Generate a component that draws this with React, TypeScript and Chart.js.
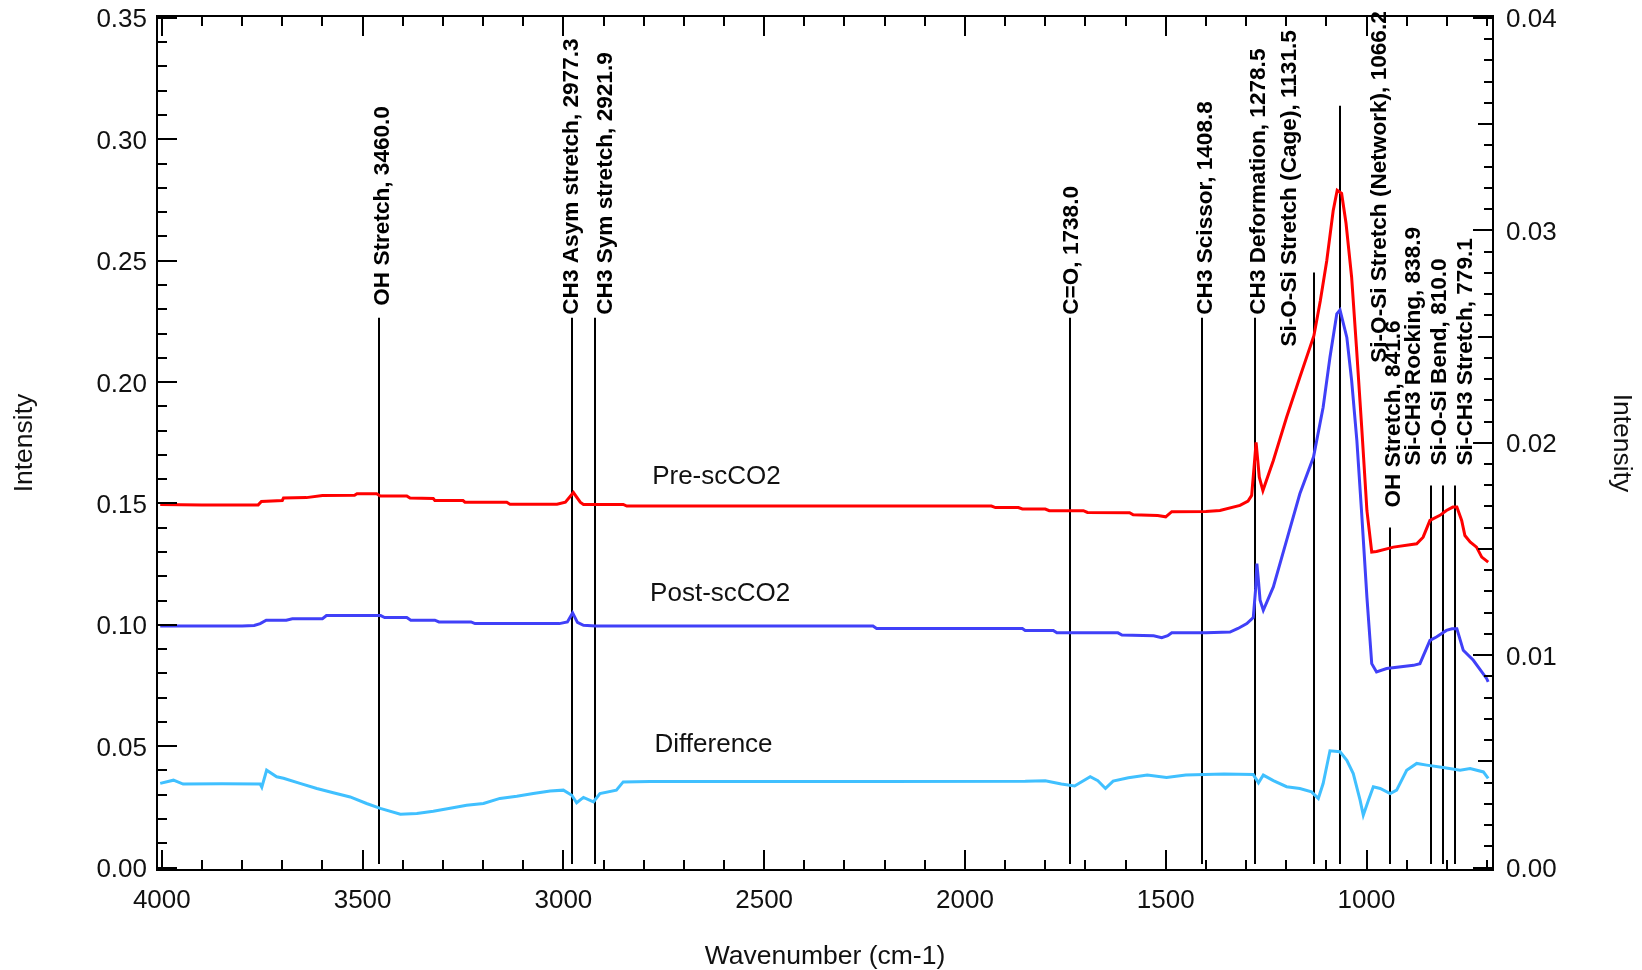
import React, { useEffect, useRef } from "react";
import { Chart, registerables } from "chart.js";

Chart.register(...registerables);

// ---------------- Data ----------------
const PRE_X = [4004, 3900, 3760, 3752, 3700, 3697, 3640, 3600, 3520, 3514, 3465, 3456, 3390, 3382, 3324, 3320, 3250, 3245, 3141, 3133, 3016, 2995, 2975, 2958, 2950, 2851, 2842, 2734, 2400, 2100, 1934, 1924, 1867, 1857, 1800, 1790, 1705, 1695, 1590, 1581, 1520, 1500, 1495, 1485, 1400, 1365, 1315, 1295, 1286, 1280, 1275, 1271, 1267, 1258, 1232, 1199, 1166, 1131, 1115, 1099, 1083, 1073, 1062, 1051, 1037, 1025, 1012, 999, 987, 975, 933, 875, 859, 842, 817, 801, 785, 775, 763, 755, 742, 726, 713, 697];
const PRE_Y = [0.1496, 0.1494, 0.1494, 0.1508, 0.1512, 0.1522, 0.1524, 0.1533, 0.1534, 0.1540, 0.1540, 0.1531, 0.1531, 0.1522, 0.1520, 0.1512, 0.1512, 0.1505, 0.1505, 0.1497, 0.1497, 0.1505, 0.1545, 0.1505, 0.1496, 0.1496, 0.1489, 0.1489, 0.1489, 0.1489, 0.1489, 0.1483, 0.1483, 0.1477, 0.1477, 0.1470, 0.1470, 0.1463, 0.1462, 0.1453, 0.1450, 0.1445, 0.1452, 0.1466, 0.1467, 0.1471, 0.1492, 0.1510, 0.1533, 0.1650, 0.1752, 0.1680, 0.1608, 0.1553, 0.1677, 0.1855, 0.2020, 0.2191, 0.2335, 0.2500, 0.2706, 0.2790, 0.2777, 0.2654, 0.2431, 0.2143, 0.1814, 0.1471, 0.1300, 0.1302, 0.1320, 0.1334, 0.1361, 0.1430, 0.1451, 0.1471, 0.1485, 0.1485, 0.1430, 0.1368, 0.1341, 0.1320, 0.1279, 0.1258];

const POST_X = [4004, 3860, 3800, 3770, 3755, 3740, 3690, 3675, 3600, 3590, 3455, 3445, 3390, 3380, 3320, 3310, 3230, 3220, 3010, 2990, 2977, 2965, 2950, 2920, 2229, 2220, 1857, 1850, 1780, 1771, 1619, 1609, 1530, 1510, 1495, 1485, 1400, 1340, 1320, 1298, 1282, 1276, 1273, 1269, 1265, 1257, 1232, 1199, 1166, 1132, 1108, 1091, 1074, 1066, 1049, 1037, 1024, 1012, 999, 987, 975, 950, 883, 867, 842, 826, 801, 787, 775, 759, 734, 701, 697];
const POST_Y = [0.0995, 0.0995, 0.0995, 0.0997, 0.1005, 0.1019, 0.1019, 0.1025, 0.1025, 0.1038, 0.1038, 0.1030, 0.1030, 0.1019, 0.1019, 0.1012, 0.1012, 0.1005, 0.1005, 0.1012, 0.1049, 0.1010, 0.0998, 0.0995, 0.0995, 0.0985, 0.0985, 0.0977, 0.0977, 0.0967, 0.0967, 0.0958, 0.0955, 0.0947, 0.0955, 0.0967, 0.0967, 0.0970, 0.0985, 0.1005, 0.1030, 0.1150, 0.1252, 0.1180, 0.1101, 0.1060, 0.1156, 0.1348, 0.1540, 0.1691, 0.1896, 0.2102, 0.2281, 0.2297, 0.2184, 0.2006, 0.1759, 0.1458, 0.1114, 0.0840, 0.0806, 0.0820, 0.0833, 0.0840, 0.0936, 0.0950, 0.0977, 0.0984, 0.0984, 0.0895, 0.0854, 0.0779, 0.0765];

const DIFF_X = [4004, 3971, 3947, 3850, 3755, 3751, 3739, 3714, 3697, 3656, 3614, 3573, 3531, 3490, 3456, 3406, 3365, 3324, 3282, 3241, 3199, 3158, 3116, 3075, 3033, 3000, 2979, 2967, 2950, 2925, 2909, 2868, 2851, 2784, 2500, 2200, 1850, 1800, 1760, 1727, 1688, 1669, 1650, 1631, 1593, 1546, 1498, 1450, 1403, 1355, 1282, 1269, 1257, 1232, 1199, 1166, 1137, 1120, 1108, 1091, 1066, 1049, 1033, 1016, 1008, 995, 983, 966, 941, 925, 900, 875, 850, 809, 767, 742, 709, 697];
const DIFF_Y = [0.0347, 0.0360, 0.0344, 0.0345, 0.0344, 0.0331, 0.0401, 0.0374, 0.0368, 0.0347, 0.0326, 0.0308, 0.0291, 0.0264, 0.0244, 0.0220, 0.0223, 0.0232, 0.0244, 0.0257, 0.0264, 0.0285, 0.0294, 0.0305, 0.0315, 0.0319, 0.0298, 0.0267, 0.0289, 0.0271, 0.0305, 0.0319, 0.0353, 0.0355, 0.0355, 0.0355, 0.0356, 0.0358, 0.0344, 0.0336, 0.0374, 0.0358, 0.0326, 0.0356, 0.0370, 0.0381, 0.0371, 0.0381, 0.0383, 0.0385, 0.0383, 0.0349, 0.0381, 0.0358, 0.0333, 0.0326, 0.0312, 0.0285, 0.0346, 0.0481, 0.0477, 0.0442, 0.0387, 0.0278, 0.0216, 0.0278, 0.0333, 0.0326, 0.0305, 0.0319, 0.0401, 0.0429, 0.0422, 0.0412, 0.0401, 0.0408, 0.0394, 0.0367];

const SERIES_NAMES = ["Pre-scCO2", "Post-scCO2", "Difference"];

// Peak annotations
const PEAK_WAVENUMBERS = [3460.0, 2977.3, 2921.9, 1738.0, 1408.8, 1278.5, 1131.5, 1066.2, 941.6, 838.9, 810.0, 779.1];
const PEAK_LABELS = [
  "OH Stretch, 3460.0",
  "CH3 Asym stretch, 2977.3",
  "CH3 Sym stretch, 2921.9",
  "C=O, 1738.0",
  "CH3 Scissor, 1408.8",
  "CH3 Deformation, 1278.5",
  "Si-O-Si Stretch (Cage), 1131.5",
  "Si-O-Si Stretch (Network), 1066.2",
  "OH Stretch, 841.6",
  "Si-CH3 Rocking, 838.9",
  "Si-O-Si Bend, 810.0",
  "Si-CH3 Stretch, 779.1",
];
const PEAK_LINE_TOPS = [0.2265, 0.2265, 0.2265, 0.2265, 0.2265, 0.2265, 0.2451, 0.3138, 0.1401, 0.1574, 0.1574, 0.1574];
const PEAK_LINE_BOTTOM = 0.0015;

// Axis ticks
const X_MAJOR_TICKS = [4000, 3500, 3000, 2500, 2000, 1500, 1000];
const Y_LEFT_TICKS = [0.0, 0.05, 0.1, 0.15, 0.2, 0.25, 0.3, 0.35];
const Y_RIGHT_TICKS = [0.0, 0.01, 0.02, 0.03, 0.04];

// ---------------- Layout / styles ----------------
const FONT = "'Liberation Sans', Arial, Helvetica, sans-serif";
const LABEL_DX = [2, -2, 9, 0, 2, 2, -26, 38, 2, -19, -5, 9];
const LABEL_GAP = [12, 3, 3, 3, 3, 3, -74, -257, 20, 20, 20, 20];
const SERIES_LABEL_POS = [
  [2779, 0.1581],
  [2784, 0.1097],
  [2773, 0.0476],
];
const COLORS = ["#ff0000", "#4040f8", "#40c0ff"];

const framePlugin = {
  id: "frame",
  beforeDatasetsDraw(chart: any) {
    const ctx = chart.ctx;
    const xs = chart.scales.x;
    const ys = chart.scales.y;
    ctx.save();
    ctx.strokeStyle = "#000";
    ctx.lineWidth = 2;
    PEAK_WAVENUMBERS.forEach((wn, i) => {
      const px = Math.round(xs.getPixelForValue(wn));
      ctx.beginPath();
      ctx.moveTo(px, ys.getPixelForValue(PEAK_LINE_BOTTOM));
      ctx.lineTo(px, ys.getPixelForValue(PEAK_LINE_TOPS[i]));
      ctx.stroke();
    });
    ctx.restore();
  },
  afterDatasetsDraw(chart: any) {
    const ctx = chart.ctx;
    const { left, right, top, bottom } = chart.chartArea;
    const xs = chart.scales.x;
    const ys = chart.scales.y;
    const y2 = chart.scales.y2;
    ctx.save();
    ctx.strokeStyle = "#000";
    ctx.lineWidth = 2;
    ctx.lineCap = "butt";
    const seg = (a: number, b: number, c: number, d: number) => {
      ctx.beginPath();
      ctx.moveTo(a, b);
      ctx.lineTo(c, d);
      ctx.stroke();
    };
    // frame
    ctx.strokeRect(left, top, right - left, bottom - top);

    // x ticks (every 100, major every 500)
    for (let v = 4000; v >= 700; v -= 100) {
      const px = Math.round(xs.getPixelForValue(v));
      const len = v % 500 === 0 ? 20 : 10;
      seg(px, bottom, px, bottom - len);
      seg(px, top, px, top + len);
    }
    // left y ticks (every 0.01, major every 0.05)
    for (let k = 0; k <= 35; k++) {
      const py = Math.round(ys.getPixelForValue(k / 100));
      const len = k % 5 === 0 ? 20 : 10;
      seg(left - 1, py, left + len, py);
    }
    // right y ticks (every 0.001, mid every 0.005, major every 0.01)
    for (let k = 0; k <= 40; k++) {
      const py = Math.round(y2.getPixelForValue(k / 1000));
      const len = k % 10 === 0 ? 20 : k % 5 === 0 ? 15 : 9;
      seg(right + 1, py, right - len, py);
    }

    // tick labels
    ctx.fillStyle = "#111";
    ctx.font = `26px ${FONT}`;
    ctx.textBaseline = "alphabetic";
    ctx.textAlign = "center";
    X_MAJOR_TICKS.forEach((v) => {
      ctx.fillText(String(v), xs.getPixelForValue(v), 908);
    });
    ctx.textAlign = "right";
    Y_LEFT_TICKS.forEach((v) => {
      ctx.fillText(v.toFixed(2), left - 10, ys.getPixelForValue(v) + 9.5);
    });
    ctx.textAlign = "left";
    Y_RIGHT_TICKS.forEach((v) => {
      ctx.fillText(v.toFixed(2), right + 13, y2.getPixelForValue(v) + 9.5);
    });

    // axis titles
    ctx.font = `26.5px ${FONT}`;
    ctx.textAlign = "center";
    ctx.fillText("Wavenumber (cm-1)", (left + right) / 2, 964);
    const midY = (top + bottom) / 2;
    ctx.save();
    ctx.translate(32, midY);
    ctx.rotate(-Math.PI / 2);
    ctx.fillText("Intensity", 0, 0);
    ctx.restore();
    ctx.save();
    ctx.translate(1614, midY);
    ctx.rotate(Math.PI / 2);
    ctx.fillText("Intensity", 0, 0);
    ctx.restore();

    // series labels
    ctx.font = `26px ${FONT}`;
    ctx.textAlign = "left";
    SERIES_NAMES.forEach((name, i) => {
      const [wx, wy] = SERIES_LABEL_POS[i];
      ctx.fillText(name, xs.getPixelForValue(wx), ys.getPixelForValue(wy));
    });

    // peak labels
    ctx.font = `bold 22.6px ${FONT}`;
    ctx.fillStyle = "#000";
    ctx.textAlign = "left";
    PEAK_LABELS.forEach((label, i) => {
      const cx = xs.getPixelForValue(PEAK_WAVENUMBERS[i]) + LABEL_DX[i];
      const startY = ys.getPixelForValue(PEAK_LINE_TOPS[i]) - LABEL_GAP[i];
      ctx.save();
      ctx.translate(cx + 8, startY);
      ctx.rotate(-Math.PI / 2);
      ctx.fillText(label, 0, 0);
      ctx.restore();
    });
    ctx.restore();
  },
};

export default function App() {
  const canvasRef = useRef<HTMLCanvasElement | null>(null);

  useEffect(() => {
    const canvas = canvasRef.current;
    if (!canvas) return;
    const toPoints = (xsArr: number[], ysArr: number[]) => xsArr.map((x, i) => ({ x, y: ysArr[i] }));
    const chart = new Chart(canvas, {
      type: "line",
      data: {
        datasets: [
          { label: SERIES_NAMES[0], data: toPoints(PRE_X, PRE_Y), borderColor: COLORS[0], backgroundColor: COLORS[0], borderWidth: 3, pointRadius: 0, tension: 0, xAxisID: "x", yAxisID: "y" },
          { label: SERIES_NAMES[1], data: toPoints(POST_X, POST_Y), borderColor: COLORS[1], backgroundColor: COLORS[1], borderWidth: 3, pointRadius: 0, tension: 0, xAxisID: "x", yAxisID: "y" },
          { label: SERIES_NAMES[2], data: toPoints(DIFF_X, DIFF_Y), borderColor: COLORS[2], backgroundColor: COLORS[2], borderWidth: 3, pointRadius: 0, tension: 0, xAxisID: "x", yAxisID: "y" },
        ],
      },
      options: {
        animation: false,
        responsive: false,
        devicePixelRatio: 1,
        layout: { padding: { left: 157, right: 149, top: 16, bottom: 100 } },
        plugins: { legend: { display: false }, tooltip: { enabled: false } },
        scales: {
          x: { type: "linear", reverse: true, min: 685, max: 4012, display: false },
          y: { type: "linear", min: -0.001, max: 0.3508, display: false },
          y2: { type: "linear", min: -0.001 * 0.04 / 0.35, max: 0.3508 * 0.04 / 0.35, display: false, position: "right" },
        },
      } as any,
      plugins: [framePlugin],
    });
    return () => chart.destroy();
  }, []);

  return (
    <div style={{ position: "fixed", left: 0, top: 0, width: 1642, height: 970, background: "#fff" }}>
      <canvas ref={canvasRef} width={1642} height={970} style={{ display: "block" }} />
    </div>
  );
}
